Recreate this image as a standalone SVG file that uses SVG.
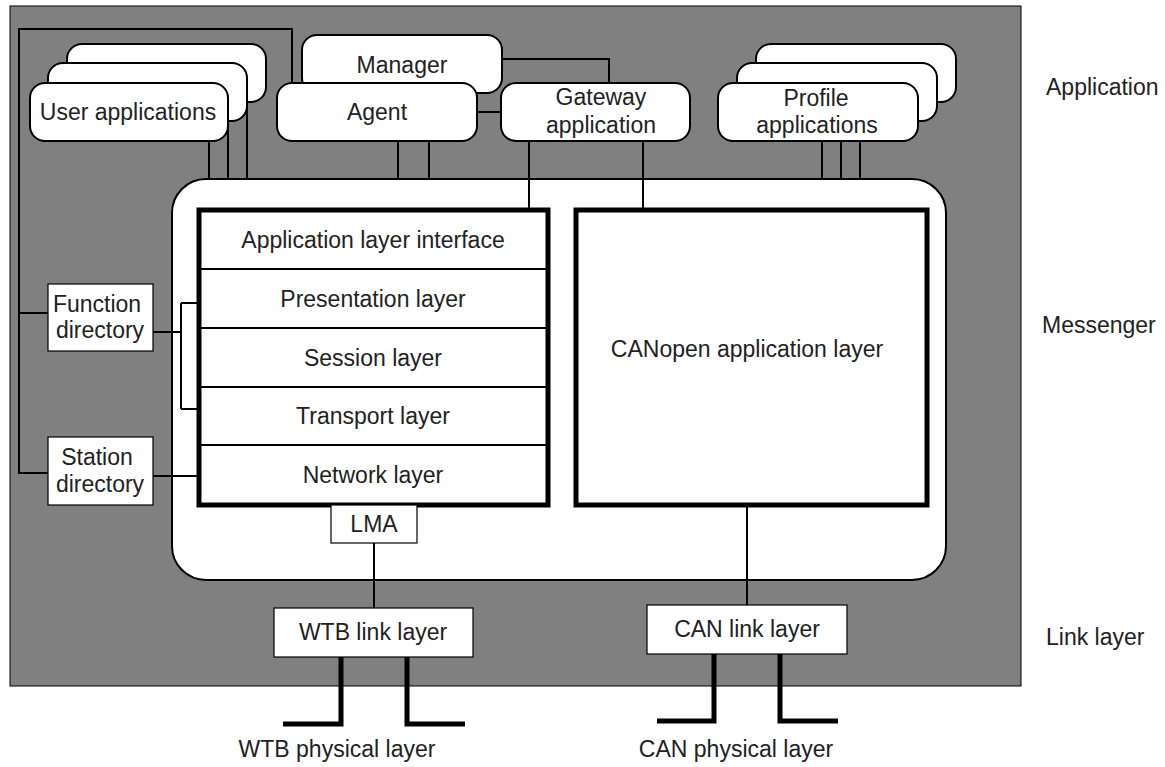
<svg xmlns="http://www.w3.org/2000/svg" width="1165" height="767" viewBox="0 0 1165 767">
<style>
text{font-family:"Liberation Sans",Arial,sans-serif;font-size:23px;fill:#222;text-anchor:middle}
.ln{fill:none;stroke:#000;stroke-width:2}
.thick{fill:none;stroke:#000;stroke-width:5}
.app{fill:#fff;stroke:#000;stroke-width:2}
.box{fill:#fff;stroke:#000;stroke-width:1.2}
.lbl{text-anchor:start}
</style>
<rect x="0" y="0" width="1165" height="767" fill="#fff"/>
<rect x="10" y="6" width="1011" height="680" fill="#808080" stroke="#000" stroke-width="1"/>

<g id="messenger">
<rect x="172" y="179" width="774" height="401" rx="34" fill="#fff" stroke="#000" stroke-width="2"/>
</g>

<g id="connectors">
<path class="ln" d="M292,83 V29 H19 V473 H48 M19,313 H48"/>
<path class="ln" d="M209,120 V179 M228,110 V179 M247,95 V179"/>
<path class="ln" d="M822,130 V179 M841,130 V179 M860,130 V179"/>
<path class="ln" d="M398,141 V179 M429,141 V179"/>
<path class="ln" d="M529,141 V210 M643,141 V210"/>
<path class="ln" d="M502,59 H609 V83 M477,112 H501"/>
<path class="ln" d="M153,332 H181 M181,303 V409 M181,303 H199 M181,409 H199 M153,476 H199"/>
<path class="ln" d="M374,543 V608 M747,505 V605"/>
<path class="thick" d="M341,657 V724 H283 M407,657 V724 H465"/>
<path class="thick" d="M714,654 V721 H657 M780,654 V721 H838"/>
</g>

<g id="user-applications">
<rect class="app" x="67" y="44" width="199" height="58" rx="15"/>
<rect class="app" x="48" y="63" width="199" height="58" rx="15"/>
<rect class="app" x="30" y="83" width="198" height="58" rx="15"/>
<text x="128" y="120">User applications</text>
</g>

<g id="manager">
<rect class="app" x="302" y="35" width="200" height="58" rx="15"/>
<text x="402" y="73">Manager</text>
</g>
<g id="agent">
<rect class="app" x="277" y="83" width="200" height="58" rx="15"/>
<text x="377" y="120">Agent</text>
</g>
<g id="gateway">
<rect class="app" x="501" y="83" width="189" height="58" rx="15"/>
<text x="601" y="105">Gateway</text>
<text x="601" y="133">application</text>
</g>

<g id="profile-applications">
<rect class="app" x="756" y="44" width="200" height="58" rx="15"/>
<rect class="app" x="737" y="63" width="200" height="58" rx="15"/>
<rect class="app" x="718" y="83" width="200" height="58" rx="15"/>
<text x="816" y="106">Profile</text>
<text x="817" y="133">applications</text>
</g>

<g id="osi-stack">
<rect class="thick" x="199" y="210" width="349" height="295" fill="#fff"/>
<path class="ln" d="M199,269 H548 M199,328 H548 M199,387 H548 M199,445 H548" stroke-width="2.5"/>
<text x="373" y="248">Application layer interface</text>
<text x="373" y="307">Presentation layer</text>
<text x="373" y="366">Session layer</text>
<text x="373" y="424">Transport layer</text>
<text x="373" y="483">Network layer</text>
</g>

<g id="canopen">
<rect class="thick" x="576" y="210" width="351" height="295" fill="#fff"/>
<text x="747" y="357">CANopen application layer</text>
</g>

<g id="function-directory">
<rect class="box" x="48" y="284" width="105" height="67"/>
<text x="97" y="312">Function</text>
<text x="100" y="338">directory</text>
</g>
<g id="station-directory">
<rect class="box" x="48" y="437" width="105" height="68"/>
<text x="97" y="465">Station</text>
<text x="100" y="492">directory</text>
</g>

<g id="lma">
<rect class="box" x="331" y="505" width="86" height="38"/>
<text x="374" y="532">LMA</text>
</g>
<g id="wtb-link">
<rect class="box" x="274" y="608" width="199" height="49"/>
<text x="373" y="640">WTB link layer</text>
</g>
<g id="can-link">
<rect class="box" x="647" y="605" width="200" height="49"/>
<text x="747" y="637">CAN link layer</text>
</g>

<text x="337" y="757">WTB physical layer</text>
<text x="736" y="757">CAN physical layer</text>
<text class="lbl" x="1046" y="95">Application</text>
<text class="lbl" x="1042" y="333">Messenger</text>
<text class="lbl" x="1046" y="645">Link layer</text>
</svg>
